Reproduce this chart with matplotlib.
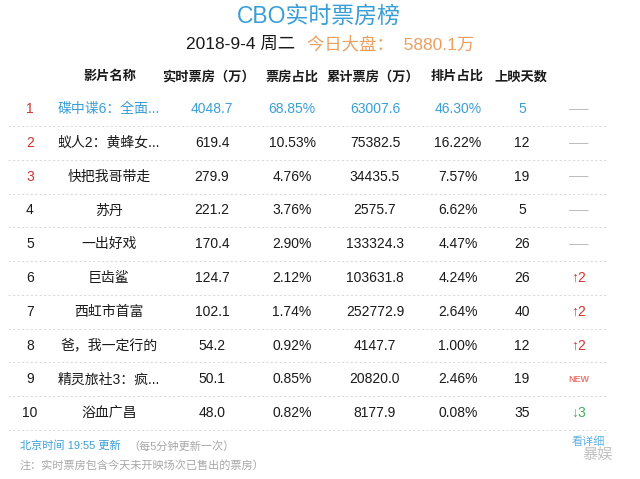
import matplotlib
matplotlib.use("Agg")
import matplotlib.pyplot as plt

plt.rcParams['font.family'] = ['Liberation Sans', 'Noto Sans CJK SC', 'DejaVu Sans']

title = "CBO实时票房榜"
date_text = "2018-9-4 周二"
total_text = "今日大盘：  5880.1万"
headers = ["影片名称", "实时票房（万）", "票房占比", "累计票房（万）", "排片占比", "上映天数"]

ranks = [1, 2, 3, 4, 5, 6, 7, 8, 9, 10]
names = ["碟中谍6：全面...", "蚁人2：黄蜂女...", "快把我哥带走", "苏丹", "一出好戏",
         "巨齿鲨", "西虹市首富", "爸，我一定行的", "精灵旅社3：疯...", "浴血广昌"]
realtime = [4048.7, 619.4, 279.9, 221.2, 170.4, 124.7, 102.1, 54.2, 50.1, 48.0]
share = [68.85, 10.53, 4.76, 3.76, 2.90, 2.12, 1.74, 0.92, 0.85, 0.82]
cumulative = [63007.6, 75382.5, 34435.5, 2575.7, 133324.3, 103631.8, 252772.9, 4147.7, 20820.0, 8177.9]
screening = [46.30, 16.22, 7.57, 6.62, 4.47, 4.24, 2.64, 1.00, 2.46, 0.08]
days = [5, 12, 19, 5, 26, 26, 40, 12, 19, 35]
changes = ["--", "--", "--", "--", "--", "↑2", "↑2", "↑2", "NEW", "↓3"]

BLUE = "#3a9ed6"
RED = "#d0342c"
ORANGE = "#eba060"
GRAY = "#a8a8a8"
GREEN = "#3cae5c"
TEXT = "#1a1a1a"

fig = plt.figure(figsize=(6.4, 4.79), dpi=100)
ax = fig.add_axes([0, 0, 1, 1])
ax.set_xlim(0, 640)
ax.set_ylim(479, 0)
ax.axis('off')

ax.text(319, 16, title, color=BLUE, fontsize=16.5, ha='center', va='center')
ax.text(295, 44, date_text, color=TEXT, fontsize=12.5, ha='right', va='center')
ax.text(307, 44, total_text, color=ORANGE, fontsize=12.5, ha='left', va='center')

col_x = [110, 208, 292, 373, 457, 521]
for x, h in zip(col_x, headers):
    ax.text(x, 77, h, color=TEXT, fontsize=9.5, fontweight='bold', ha='center', va='center')

row_y0 = 109
row_h = 33.8
for i in range(len(ranks)):
    y = row_y0 + i * row_h
    main = BLUE if i == 0 else TEXT
    ax.text(30, y, str(ranks[i]), color=RED if i < 3 else TEXT, fontsize=10, ha='center', va='center')
    ax.text(109, y, names[i], color=main, fontsize=10, ha='center', va='center')
    ax.text(212, y, f"{realtime[i]:.1f}", color=main, fontsize=10, ha='center', va='center')
    ax.text(292, y, f"{share[i]:.2f}%", color=main, fontsize=10, ha='center', va='center')
    ax.text(375, y, f"{cumulative[i]:.1f}", color=main, fontsize=10, ha='center', va='center')
    ax.text(458, y, f"{screening[i]:.2f}%", color=main, fontsize=10, ha='center', va='center')
    ax.text(522, y, str(days[i]), color=main, fontsize=10, ha='center', va='center')
    c = changes[i]
    if c == "--":
        ax.text(579, y, "——", color=GRAY, fontsize=7, ha='center', va='center')
    elif c == "NEW":
        ax.text(579, y, c, color="#ec7a72", fontsize=6.5, fontweight='bold', ha='center', va='center')
    elif c.startswith("↑"):
        ax.text(579, y, c, color=RED, fontsize=10, ha='center', va='center')
    else:
        ax.text(579, y, c, color=GREEN, fontsize=10, ha='center', va='center')
    ax.plot([8, 607], [y + row_h / 2, y + row_h / 2], color="#dcdcdc", lw=0.8,
            linestyle=(0, (2, 2)))

ax.text(20, 446, "北京时间 19:55 更新", color=BLUE, fontsize=8, ha='left', va='center')
ax.text(128, 446, "（每5分钟更新一次）", color=GRAY, fontsize=8, ha='left', va='center')
ax.text(20, 465, "注：实时票房包含今天未开映场次已售出的票房）", color=GRAY, fontsize=8, ha='left', va='center')

# watermark
ax.text(588, 442, "看详细", color=BLUE, fontsize=8, ha='center', va='center', alpha=0.8)
ax.text(598, 455, "暴娱", color=GRAY, fontsize=11, ha='center', va='center', alpha=0.7)

fig.savefig("out.png", dpi=100)
